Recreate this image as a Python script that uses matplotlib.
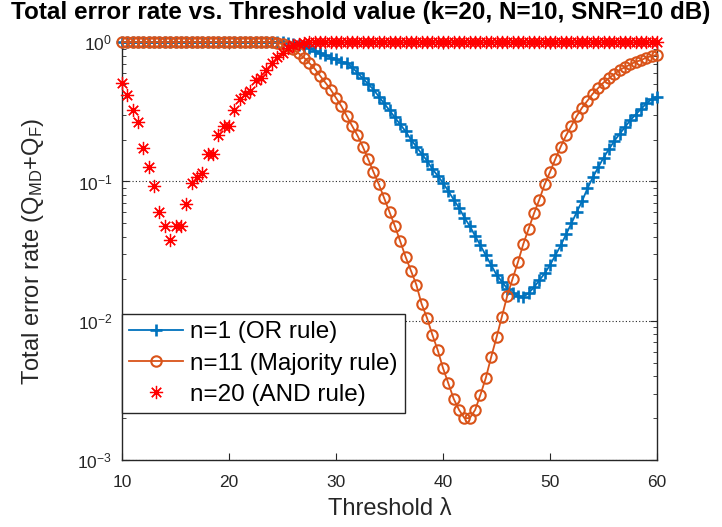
import numpy as np
import matplotlib
matplotlib.use("Agg")
import matplotlib.pyplot as plt

plt.rcParams["font.family"] = ["Liberation Sans", "DejaVu Sans"]
plt.rcParams["mathtext.default"] = "regular"

# Threshold grid (step 0.5)
threshold = np.arange(10.0, 60.0 + 0.25, 0.5)

# n = 1 (OR rule)
err_or = [
    1.0, 1.0, 1.0, 1.0, 1.0, 1.0, 1.0, 1.0, 1.0, 1.0,
    1.0, 1.0, 1.0, 1.0, 1.0, 1.0, 1.0, 1.0, 1.0, 1.0,
    1.0, 1.0, 1.0, 1.0, 1.0, 1.0, 1.0, 1.0, 1.0, 1.0,
    1.0, 0.989, 0.977, 0.955, 0.933, 0.902, 0.871, 0.841, 0.813, 0.776,
    0.759, 0.724, 0.708, 0.661, 0.603, 0.550, 0.501, 0.457, 0.407, 0.363,
    0.324, 0.288, 0.257, 0.229, 0.200, 0.178, 0.158, 0.141, 0.123, 0.110,
    0.0977, 0.0851, 0.0741, 0.0646, 0.0550, 0.0479, 0.0407, 0.0347, 0.0295, 0.0251,
    0.0214, 0.0191, 0.0170, 0.0158, 0.0151, 0.0148, 0.0158, 0.0174, 0.0195, 0.0219,
    0.0251, 0.0295, 0.0347, 0.0417, 0.0501, 0.0603, 0.0724, 0.0891, 0.107, 0.126,
    0.148, 0.170, 0.195, 0.219, 0.245, 0.275, 0.302, 0.331, 0.363, 0.389,
    0.407,
]

# n = 11 (Majority rule)
err_maj = [
    1.0, 1.0, 1.0, 1.0, 1.0, 1.0, 1.0, 1.0, 1.0, 1.0,
    1.0, 1.0, 1.0, 1.0, 1.0, 1.0, 1.0, 1.0, 1.0, 1.0,
    1.0, 1.0, 1.0, 1.0, 1.0, 1.0, 1.0, 1.0, 1.0, 0.989,
    0.966, 0.933, 0.891, 0.832, 0.776, 0.708, 0.646, 0.575, 0.513, 0.457,
    0.398, 0.347, 0.295, 0.251, 0.214, 0.178, 0.145, 0.117, 0.0955, 0.0759,
    0.0603, 0.0479, 0.0372, 0.0288, 0.0229, 0.0182, 0.0132, 0.0105, 0.00794, 0.00617,
    0.00457, 0.00355, 0.00275, 0.00229, 0.00200, 0.00200, 0.00229, 0.00295, 0.00389, 0.00550,
    0.00759, 0.0107, 0.0151, 0.0200, 0.0263, 0.0355, 0.0457, 0.0589, 0.0741, 0.0955,
    0.117, 0.145, 0.178, 0.214, 0.251, 0.295, 0.339, 0.380, 0.427, 0.468,
    0.513, 0.550, 0.589, 0.631, 0.661, 0.692, 0.724, 0.741, 0.776, 0.794,
    0.813,
]

# n = 20 (AND rule)
err_and = [
    0.513, 0.417, 0.324, 0.269, 0.174, 0.126, 0.093, 0.060, 0.048, 0.038,
    0.048, 0.048, 0.069, 0.098, 0.107, 0.115, 0.158, 0.158, 0.214, 0.251,
    0.251, 0.324, 0.389, 0.427, 0.447, 0.537, 0.550, 0.631, 0.708, 0.785,
    0.832, 0.902, 0.955, 0.977, 0.990, 0.995, 0.998, 1.0, 1.0, 1.0,
    1.0, 1.0, 1.0, 1.0, 1.0, 1.0, 1.0, 1.0, 1.0, 1.0,
    1.0, 1.0, 1.0, 1.0, 1.0, 1.0, 1.0, 1.0, 1.0, 1.0,
    1.0, 1.0, 1.0, 1.0, 1.0, 1.0, 1.0, 1.0, 1.0, 1.0,
    1.0, 1.0, 1.0, 1.0, 1.0, 1.0, 1.0, 1.0, 1.0, 1.0,
    1.0, 1.0, 1.0, 1.0, 1.0, 1.0, 1.0, 1.0, 1.0, 1.0,
    1.0, 1.0, 1.0, 1.0, 1.0, 1.0, 1.0, 1.0, 1.0, 1.0,
    1.0,
]

labels = ["n=1 (OR rule)", "n=11 (Majority rule)", "n=20 (AND rule)"]
x_ticks = [10, 20, 30, 40, 50, 60]

axis_color = "#262626"
fig = plt.figure(figsize=(7.22, 5.27), dpi=100)
ax = fig.add_axes([0.169, 0.127, 0.741, 0.793])

ax.plot(threshold, err_or, color="#0072BD", lw=1.3, marker="+", ms=9,
        mew=1.9, label=labels[0], clip_on=False, zorder=3)
ax.plot(threshold, err_maj, color="#D95319", lw=1.3, marker="o", ms=7.5,
        mew=1.5, mfc="none", label=labels[1], clip_on=False, zorder=4)
ax.plot(threshold, err_and, color="#FF0000", ls="none", marker=(8, 2, 0),
        ms=9.5, mew=0.9, label=labels[2], clip_on=False, zorder=5)

ax.set_yscale("log")
ax.set_xlim(10, 60)
ax.set_ylim(1e-3, 1)
ax.set_xticks(x_ticks)
ax.set_xticklabels([str(t) for t in x_ticks])

ax.tick_params(axis="both", which="both", direction="in", top=True, right=True,
               colors=axis_color, labelsize=12.5)
ax.tick_params(axis="x", which="major", length=5, pad=11)
ax.tick_params(axis="y", which="major", length=5, pad=7)
ax.tick_params(axis="y", which="minor", length=3)
for s in ax.spines.values():
    s.set_color(axis_color)
    s.set_linewidth(1.0)

ax.yaxis.grid(True, which="major", ls=(0, (1, 2)), color="#262626", lw=0.8)
ax.set_axisbelow(True)

ax.set_xlabel("Threshold λ", fontsize=17, color=axis_color)
ax.xaxis.set_label_coords(0.5, -0.090)
ax.set_ylabel("Total error rate (Q$_{MD}$+Q$_F$)", fontsize=17, color=axis_color)
ax.yaxis.set_label_coords(-0.143, 0.5)

fig.text(0.5, 1 - 13 / 527, "Total error rate vs. Threshold value (k=20, N=10, SNR=10 dB)",
         fontsize=17.5, fontweight="bold", ha="center", va="center", color="black")

leg = ax.legend(loc="lower left", bbox_to_anchor=(0.0, 0.112), fontsize=17.5,
                frameon=True, fancybox=False, borderaxespad=0, handlelength=2.2,
                handletextpad=0.3, labelspacing=0.38, borderpad=0.3)
leg.get_frame().set_edgecolor(axis_color)
leg.get_frame().set_linewidth(1.0)
leg.get_frame().set_alpha(1.0)

fig.savefig("out.png", dpi=100)
